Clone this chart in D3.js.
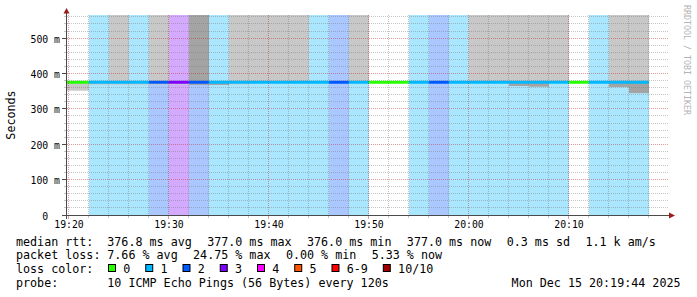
<!DOCTYPE html>
<html><head><meta charset="utf-8">
<script src="https://cdn.jsdelivr.net/npm/d3@7"></script>
<style>
html,body{margin:0;padding:0;background:#fff;}
svg{display:block;}
text{font-family:"DejaVu Sans Mono",monospace;fill:#000;}
</style></head><body>
<svg id="c" width="697" height="297"></svg>
<script>
// ---------------- data ----------------
const windowStart = "19:19:44";
const windowEnd = "20:19:44";
const columnEnds = ["19:22","19:24","19:26","19:28","19:30","19:32","19:34","19:36","19:38","19:40",
  "19:42","19:44","19:46","19:48","19:50","19:52","19:54","19:56","19:58","20:00",
  "20:02","20:04","20:06","20:08","20:10","20:12","20:14","20:16","20:18"];
const medianRtt = [376.9,376.8,376.8,376.8,376.9,377.0,376.8,376.8,376.8,376.7,
  376.8,376.8,376.8,376.9,376.8,376.9,376.9,376.8,376.9,376.8,
  376.8,376.8,376.7,376.8,376.8,376.9,376.8,376.8,376.8];
const lossCount = [0,1,1,1,2,3,2,1,1,1, 1,1,1,2,1,0,0,1,2,1, 1,1,1,1,1,0,1,1,1];
// smoke above the median (null = none); values reach past the top of the graph
const smokeHigh = [null,null,567,null,567,null,567,null,567,567, 567,567,null,null,567,null,null,null,null,null, 567,567,567,567,567,null,null,567,567];
const smokeHighDensity = [0,0,1,0,1,0,2,0,1,1, 1,1,0,0,1,0,0,0,0,0, 1,1,1,1,1,0,0,1,1];
// smoke below the median (null = none)
const smokeLow = [352.8,369.8,369.8,369.8,369.8,369.8,369.0,369.0,370.5,null, null,null,null,null,null,null,null,null,null,null, null,null,366.0,364.0,null,null,null,363.0,346.0];
const smokeLowDensity = [1,1,1,1,1,1,2,2,1,0, 0,0,0,0,0,0,0,0,0,0, 0,0,2,2,0,0,0,2,2];
const yMax = 566.8;
const yMajorTicks = [0,100,200,300,400,500];
const yTickLabels = ["0","100 m","200 m","300 m","400 m","500 m"];
const xMajorTicks = ["19:20","19:30","19:40","19:50","20:00","20:10"];
const lossLabels = ["0","1","2","3","4","5","6-9","10/10"];
const lossColors = ["#26ff00","#00b8ff","#0059ff","#7e00ff","#ff00ff","#ff5500","#ff0000","#a10000"];
const legendMedian = ["376.8 ms avg","377.0 ms max","376.0 ms min","377.0 ms now","0.3 ms sd","1.1 k am/s"];
const legendLoss = ["7.66 % avg","24.75 % max","0.00 % min","5.33 % now"];
const probeText = "10 ICMP Echo Pings (56 Bytes) every 120s";
const dateText = "Mon Dec 15 20:19:44 2025";

// ---------------- drawing ----------------
const svg = d3.select("#c");
const T = s => new Date("2025-12-15T" + (s.length === 5 ? s + ":00" : s) + "Z");
const t0 = T(windowStart), t1 = T(windowEnd);
const x = d3.scaleUtc().domain([t0, t1]).range([66.33, 666.33]);
const y = d3.scaleLinear().domain([0, yMax]).range([215.5, 15]);
const PL = 67, PR = 666.33, PT = 15, PB = 215.5;

const lossIdx = n => n <= 5 ? n : (n < 10 ? 6 : 7);
const smokeColor = d3.scaleOrdinal().domain([1, 2]).range(["#c8c8c8", "#a4a4a4"]);

const cols = columnEnds.map((e, i) => ({
  start: i === 0 ? t0 : T(columnEnds[i - 1]),
  end: T(e),
  med: medianRtt[i], loss: lossCount[i],
  hi: smokeHigh[i], hiD: smokeHighDensity[i],
  lo: smokeLow[i], loD: smokeLowDensity[i]
}));

svg.append("defs").append("clipPath").attr("id", "plot")
  .append("rect").attr("x", PL).attr("y", PT).attr("width", PR - PL).attr("height", PB - PT);
const g = svg.append("g").attr("clip-path", "url(#plot)");

// loss background
g.selectAll("rect.bg").data(cols.filter(d => d.loss > 0)).join("rect")
  .attr("x", d => x(d.start)).attr("width", d => x(d.end) - x(d.start))
  .attr("y", y(yMax)).attr("height", y(0) - y(yMax))
  .attr("fill", d => lossColors[lossIdx(d.loss)]).attr("fill-opacity", 0.333);

// smoke above
g.selectAll("rect.hi").data(cols.filter(d => d.hi != null)).join("rect")
  .attr("x", d => x(d.start)).attr("width", d => x(d.end) - x(d.start))
  .attr("y", d => y(d.hi)).attr("height", d => y(d.med) - y(d.hi))
  .attr("fill", d => smokeColor(d.hiD));
// smoke below
g.selectAll("rect.lo").data(cols.filter(d => d.lo != null)).join("rect")
  .attr("x", d => x(d.start)).attr("width", d => x(d.end) - x(d.start))
  .attr("y", d => y(d.med)).attr("height", d => y(d.lo) - y(d.med))
  .attr("fill", d => smokeColor(d.loD));

// median line
g.selectAll("line.med").data(cols).join("line")
  .attr("x1", d => x(d.start)).attr("x2", d => x(d.end))
  .attr("y1", d => y(d.med)).attr("y2", d => y(d.med))
  .attr("stroke", d => lossColors[lossIdx(d.loss)]).attr("stroke-width", 3);

// grid
const gridMinor = "rgba(120,120,120,0.42)", gridMajor = "rgba(190,40,40,0.45)";
const crisp = v => Math.round(v) - 0.5;
const grid = svg.append("g");
const yMinor = d3.range(20, yMax, 20).filter(v => v % 100 !== 0);
const yMajor = yMajorTicks.filter(v => v > 0);
grid.selectAll("line.ym").data(yMinor).join("line")
  .attr("x1", PL).attr("x2", 668).attr("y1", d => crisp(y(d))).attr("y2", d => crisp(y(d)))
  .attr("stroke", gridMinor).attr("stroke-dasharray", "1,1");
grid.selectAll("line.yM").data(yMajor).join("line")
  .attr("x1", PL).attr("x2", 668).attr("y1", d => crisp(y(d))).attr("y2", d => crisp(y(d)))
  .attr("stroke", gridMajor).attr("stroke-dasharray", "1,1");
const xMinor = d3.utcMinute.every(2).range(T("19:20"), T("20:19")).filter(d => d.getUTCMinutes() % 10 !== 0);
const xMajor = xMajorTicks.map(T);
grid.selectAll("line.xm").data(xMinor).join("line")
  .attr("y1", PT).attr("y2", PB).attr("x1", d => crisp(x(d))).attr("x2", d => crisp(x(d)))
  .attr("stroke", gridMinor).attr("stroke-dasharray", "1,1");
grid.selectAll("line.xM").data(xMajor).join("line")
  .attr("y1", PT).attr("y2", PB).attr("x1", d => crisp(x(d))).attr("x2", d => crisp(x(d)))
  .attr("stroke", gridMajor).attr("stroke-dasharray", "1,1");

// ticks
const axisCol = "#4a4a4a", arrowCol = "#9b1c1c";
const tk = svg.append("g");
tk.selectAll("line.a").data(yMinor).join("line")
  .attr("x1", 64).attr("x2", 67).attr("y1", d => crisp(y(d))).attr("y2", d => crisp(y(d))).attr("stroke", gridMinor);
tk.selectAll("line.b").data(yMajor).join("line")
  .attr("x1", 62).attr("x2", 67).attr("y1", d => crisp(y(d))).attr("y2", d => crisp(y(d))).attr("stroke", axisCol);
tk.selectAll("line.c").data(xMinor).join("line")
  .attr("y1", 216).attr("y2", 218).attr("x1", d => crisp(x(d))).attr("x2", d => crisp(x(d))).attr("stroke", gridMinor);
tk.selectAll("line.d").data(xMajor).join("line")
  .attr("y1", 216).attr("y2", 219).attr("x1", d => crisp(x(d))).attr("x2", d => crisp(x(d))).attr("stroke", gridMajor);

// axes
svg.append("line").attr("x1", 62).attr("x2", 670).attr("y1", 215.5).attr("y2", 215.5).attr("stroke", axisCol);
svg.append("line").attr("x1", 66.5).attr("x2", 66.5).attr("y1", 219).attr("y2", 11).attr("stroke", axisCol);
svg.append("path").attr("d", "M669,212.5 L675,215.5 L669,218.5 Z").attr("fill", arrowCol);
svg.append("path").attr("d", "M63.5,13.5 L66.5,8 L69.5,13.5 Z").attr("fill", arrowCol);

// axis labels
const axisFont = "9.8px";
svg.append("g").selectAll("text").data(xMajor).join("text")
  .attr("x", d => crisp(x(d)) + 0.5).attr("y", 224.5)
  .attr("text-anchor", "middle").attr("dominant-baseline", "central")
  .style("font-size", axisFont).text(d => d3.utcFormat("%H:%M")(d));
svg.append("g").selectAll("text").data(yMajorTicks).join("text")
  .attr("x", 60).attr("y", d => crisp(y(d)) + 0.5)
  .attr("text-anchor", "end").attr("dominant-baseline", "central")
  .attr("xml:space", "preserve").style("white-space", "pre")
  .style("font-size", axisFont).text((d, i) => yTickLabels[i].length === 1 ? yTickLabels[i] + "  " : yTickLabels[i]);

svg.append("text").attr("transform", "translate(14.5,115) rotate(-90)")
  .attr("text-anchor", "middle").style("font-size", "11.7px").text("Seconds");
svg.append("text").attr("transform", "translate(684,5) rotate(90)")
  .attr("text-anchor", "start").style("font-size", "8.3px").style("fill", "#b4b4b4").text("RRDTOOL / TOBI OETIKER");

// legend
const LF = "11.7px", gap = 15.4, valX = 107.3;
const rows = [241.7, 255, 269.3, 282.7];
const lg = svg.append("g").style("font-size", LF);
function label(txt, yy) {
  lg.append("text").attr("x", 16).attr("y", yy).attr("dominant-baseline", "central").text(txt);
}
function chain(items, yy) {
  let cx = valX;
  items.forEach(s => {
    const t = lg.append("text").attr("x", cx).attr("y", yy).attr("dominant-baseline", "central").text(s);
    cx += t.node().getComputedTextLength() + gap;
  });
}
label("median rtt:", rows[0]); chain(legendMedian, rows[0]);
label("packet loss:", rows[1]); chain(legendLoss, rows[1]);
label("loss color:", rows[2]);
{
  let cx = 108.5;
  lossLabels.forEach((s, i) => {
    lg.append("rect").attr("x", cx).attr("y", 264.5).attr("width", 7).attr("height", 7)
      .attr("fill", lossColors[i]).attr("stroke", "#000").attr("stroke-width", 1);
    const t = lg.append("text").attr("x", cx + 14.8).attr("y", rows[2]).attr("dominant-baseline", "central").text(s);
    cx = cx + 14.8 + t.node().getComputedTextLength() + gap;
  });
}
label("probe:", rows[3]);
lg.append("text").attr("x", valX).attr("y", rows[3]).attr("dominant-baseline", "central").text(probeText);
lg.append("text").attr("x", 680.5).attr("y", rows[3]).attr("text-anchor", "end").attr("dominant-baseline", "central").text(dateText);
</script>
</body></html>
